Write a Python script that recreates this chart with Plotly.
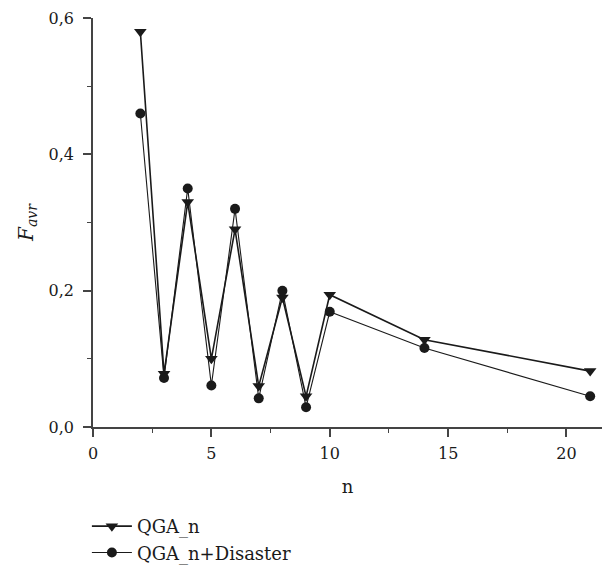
import plotly.graph_objects as go

# Average fitness versus n for the two algorithm variants
n_values = [2, 3, 4, 5, 6, 7, 8, 9, 10, 14, 21]
qga_n = [0.58, 0.078, 0.33, 0.10, 0.29, 0.06, 0.19, 0.045, 0.194, 0.128, 0.082]
qga_n_disaster = [0.46, 0.072, 0.35, 0.061, 0.32, 0.042, 0.20, 0.029, 0.169, 0.116, 0.045]

series_names = ["QGA_n", "QGA_n+Disaster"]

FONT = "DejaVu Serif"
INK = "#1a1a1a"

fig = go.Figure()
fig.add_trace(go.Scatter(
    x=n_values, y=qga_n, name=series_names[0], mode="lines+markers",
    line=dict(color=INK, width=1.6),
    marker=dict(symbol="triangle-down", size=11, color=INK),
))
fig.add_trace(go.Scatter(
    x=n_values, y=qga_n_disaster, name=series_names[1], mode="lines+markers",
    line=dict(color=INK, width=1.1),
    marker=dict(symbol="circle", size=10, color=INK),
))

axis_common = dict(
    showline=True, linecolor="#444", linewidth=1.5,
    ticks="outside", ticklen=8, tickwidth=1.5, tickcolor="#444",
    showgrid=False, zeroline=False, automargin=False,
    tickfont=dict(family=FONT, size=16, color=INK),
)

fig.update_layout(
    width=608, height=565,
    margin=dict(l=93, r=6, t=18, b=138, autoexpand=False),
    paper_bgcolor="white", plot_bgcolor="white",
    separators=",.",
    font=dict(family=FONT, color=INK, size=16),
    showlegend=True,
    legend=dict(
        x=-0.012, xanchor="left",
        y=0.101, yref="container", yanchor="top",
        font=dict(family=FONT, size=18, color=INK),
        tracegroupgap=0, itemwidth=40,
        bgcolor="rgba(0,0,0,0)",
    ),
    xaxis=dict(
        **axis_common, range=[0, 21.5], tick0=0, dtick=5, ticklabelstandoff=3,
        minor=dict(ticks="outside", ticklen=4, tickwidth=1.2, tickcolor="#444", dtick=2.5, tick0=0),
        title=dict(text="n", font=dict(family=FONT, size=18, color=INK), standoff=18),
    ),
    yaxis=dict(
        **axis_common, range=[0, 0.6], tick0=0, dtick=0.2, tickformat=".1f", ticklabelstandoff=6,
        minor=dict(ticks="outside", ticklen=4, tickwidth=1.2, tickcolor="#444", dtick=0.1, tick0=0),
        title=dict(text="<i>F<sub>avr</sub></i>", font=dict(family=FONT, size=20, color=INK), standoff=10),
    ),
)

fig.write_html("out.html")
